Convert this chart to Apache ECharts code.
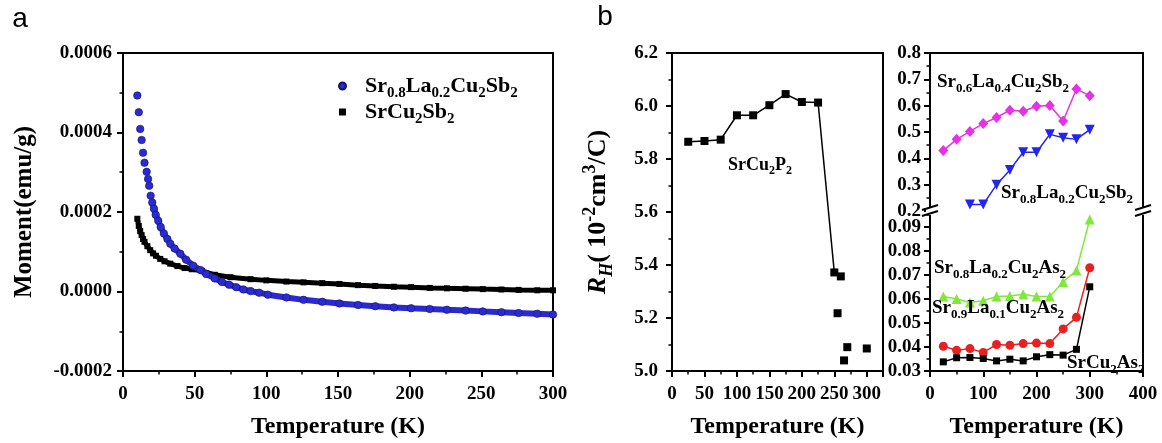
<!DOCTYPE html>
<html>
<head>
<meta charset="utf-8">
<script src="https://cdn.jsdelivr.net/npm/echarts@6/dist/echarts.min.js"></script>
<style>
  html, body { margin: 0; padding: 0; background: #fff; }
  #chart { width: 1162px; height: 443px; }
</style>
</head>
<body>
<div id="chart"></div>
<script>
// ---- panel a: moment vs temperature ----
const tempBlueA = [10, 11, 12, 13, 14, 15, 16.5, 17.5, 18.3, 19.3, 20.4, 21.6, 22.8, 24.6, 26.3, 28.5, 31, 33, 36, 40, 44, 49, 54, 58, 64, 69, 74, 79, 84, 89, 95, 101, 114, 126, 139, 151, 164, 176, 189, 201, 214, 226, 239, 251, 264, 276, 289, 300];
const momBlueA = [0.000493, 0.000451, 0.000409, 0.000381, 0.000349, 0.000324, 0.000301, 0.000283, 0.000266, 0.000241, 0.000224, 0.000208, 0.000193, 0.000178, 0.000162, 0.000146, 0.000132, 0.000120, 0.000108, 0.000095, 0.000080, 0.000065, 0.000054, 0.000044, 0.000033, 0.000024, 0.000017, 0.000011, 0.000005, 0.000001, -0.000003, -0.000008, -0.000015, -0.000021, -0.000026, -0.000030, -0.000034, -0.000037, -0.000040, -0.000042, -0.000044, -0.000046, -0.000048, -0.000050, -0.000052, -0.000054, -0.000056, -0.000058];
const tempBlackA = [10, 11, 12, 13, 14, 15, 17, 19, 21, 23, 26, 29, 33, 38, 43, 48, 55, 64, 75, 89, 100, 114, 126, 139, 151, 164, 176, 189, 201, 214, 226, 239, 251, 264, 276, 289, 300];
const momBlackA = [0.000183, 0.000165, 0.000152, 0.000142, 0.000132, 0.000125, 0.000114, 0.000104, 0.000096, 0.000090, 0.000082, 0.000076, 0.000070, 0.000064, 0.000059, 0.000056, 0.000052, 0.000042, 0.000036, 0.000031, 0.000028, 0.000025, 0.000023, 0.000021, 0.000019, 0.000016, 0.000014, 0.000012, 0.000011, 0.000009, 0.000008, 0.000007, 0.000006, 0.000005, 0.000004, 0.000003, 0.000003];

// ---- panel b left: SrCu2P2 ----
const tempP = [25, 50, 75, 100, 125, 150, 175, 200, 225, 250, 260];
const rhP = [5.865, 5.868, 5.873, 5.965, 5.965, 6.003, 6.045, 6.015, 6.013, 5.372, 5.357];
const tempPLoose = [255, 265, 270, 300];
const rhPLoose = [5.218, 5.040, 5.090, 5.085];

// ---- panel b right ----
const tempR = [25, 50, 75, 100, 125, 150, 175, 200, 225, 250, 275, 300];
const rhSr06Sb = [0.430, 0.472, 0.502, 0.532, 0.555, 0.583, 0.579, 0.598, 0.601, 0.542, 0.663, 0.638];
const tempSr08Sb = [75, 100, 125, 150, 175, 200, 225, 250, 275, 300];
const rhSr08Sb = [0.225, 0.225, 0.300, 0.356, 0.423, 0.423, 0.491, 0.478, 0.472, 0.509];
const rhSr08As = [0.0610, 0.0599, 0.0585, 0.0592, 0.0610, 0.0612, 0.0619, 0.0610, 0.0610, 0.0670, 0.0718, 0.0930];
const rhSr09As = [0.0403, 0.0386, 0.0393, 0.0377, 0.0410, 0.0407, 0.0414, 0.0416, 0.0414, 0.0475, 0.0523, 0.0729];
const rhSrAs = [0.0338, 0.0355, 0.0356, 0.0352, 0.0342, 0.0349, 0.0342, 0.0359, 0.0368, 0.0366, 0.0390, 0.0650];

const SERIF = '"Liberation Serif", "Times New Roman", serif';
const zip = (xs, ys) => xs.map((x, i) => [x, ys[i]]);

// formula like Sr_0.8La_0.2 -> rich text with subscripts
const chem = (s) => s.replace(/([A-Za-z]+)|_([0-9.]+)/g, (m, a, b) => (a ? '{n|' + a + '}' : '{s|' + b + '}'));

const richFor = (F) => {
  const fs = Math.round(F * 0.66);
  return {
    n: { fontFamily: SERIF, fontWeight: 'bold', fontSize: F, lineHeight: Math.round(F * 1.35), verticalAlign: 'middle', color: '#000' },
    s: { fontFamily: SERIF, fontWeight: 'bold', fontSize: fs, lineHeight: fs, verticalAlign: 'bottom', color: '#000' },
    sp: { width: 14 },
  };
};

const LABEL = { color: '#000', fontFamily: SERIF, fontWeight: 'bold', fontSize: 19 };
const TITLE = { color: '#000', fontFamily: SERIF, fontWeight: 'bold', fontSize: 24 };
const LINE = { color: '#000', width: 2 };

const valAxis = (o) => ({
  type: 'value',
  axisLine: { show: true, onZero: false, lineStyle: LINE },
  axisTick: { show: true, length: 6, lineStyle: LINE },
  minorTick: { show: true, splitNumber: 2, length: 3.5, lineStyle: { color: '#000', width: 1.5 } },
  splitLine: { show: false },
  minorSplitLine: { show: false },
  ...o,
});

const frameAxis = (o) => ({
  type: 'value',
  axisLine: { show: true, onZero: false, lineStyle: LINE },
  axisTick: { show: false },
  minorTick: { show: false },
  axisLabel: { show: false },
  splitLine: { show: false },
  ...o,
});

const breakMark = (x, y) => [
  { type: 'rect', z: 100, shape: { x: x - 4, y: y - 3, width: 8, height: 7 }, style: { fill: '#fff' } },
  { type: 'line', z: 101, shape: { x1: x - 8, y1: y - 1, x2: x + 8, y2: y - 6 }, style: { stroke: '#000', lineWidth: 2 } },
  { type: 'line', z: 101, shape: { x1: x - 8, y1: y + 5, x2: x + 8, y2: y }, style: { stroke: '#000', lineWidth: 2 } },
];

const label = (text, x, y, F, align) => ({
  type: 'text', z: 50, x, y,
  style: { text: chem(text), rich: richFor(F), align: align || 'left', verticalAlign: 'middle' },
});

const chart = echarts.init(document.getElementById('chart'));

const option = {
  animation: false,
  backgroundColor: '#fff',
  grid: [
    { left: 123, top: 53, width: 430, height: 318, show: true, borderColor: '#000', borderWidth: 2, outerBoundsMode: 'none' },
    { left: 672, top: 53, width: 211, height: 318, show: true, borderColor: '#000', borderWidth: 2, outerBoundsMode: 'none' },
    { left: 930, top: 53, width: 213, height: 158, outerBoundsMode: 'none' },
    { left: 930, top: 211, width: 213, height: 160, outerBoundsMode: 'none' },
  ],
  legend: {
    data: [
      { name: 'Sr_0.8La_0.2Cu_2Sb_2', icon: 'circle' },
      { name: 'SrCu_2Sb_2', icon: 'rect' },
    ],
    orient: 'vertical',
    left: 333,
    top: 70,
    itemWidth: 7,
    itemHeight: 7,
    itemGap: 0,
    selectedMode: false,
    formatter: (name) => '{sp| }' + chem(name),
    textStyle: { rich: richFor(22) },
  },
  xAxis: [
    valAxis({
      gridIndex: 0, min: 0, max: 300, interval: 50,
      axisLabel: { ...LABEL, margin: 14 },
      name: 'Temperature (K)', nameLocation: 'middle', nameGap: 44, nameTextStyle: TITLE,
    }),
    valAxis({
      gridIndex: 1, min: 0, max: 325, interval: 50,
      axisLabel: { ...LABEL, margin: 14, showMaxLabel: false },
      name: 'Temperature (K)', nameLocation: 'middle', nameGap: 44, nameTextStyle: TITLE,
    }),
    frameAxis({ gridIndex: 2, position: 'top', min: 0, max: 400 }),
    valAxis({
      gridIndex: 3, min: 0, max: 400, interval: 100,
      axisLabel: { ...LABEL, margin: 14 },
      name: 'Temperature (K)', nameLocation: 'middle', nameGap: 44, nameTextStyle: TITLE,
    }),
  ],
  yAxis: [
    valAxis({
      gridIndex: 0, min: -0.0002, max: 0.0006, interval: 0.0002,
      axisLabel: { ...LABEL, margin: 11, formatter: (v) => v.toFixed(4) },
      name: 'Moment(emu/g)', nameLocation: 'middle', nameRotate: 90, nameGap: 86,
      nameTextStyle: { ...TITLE, fontSize: 25 },
    }),
    valAxis({
      gridIndex: 1, min: 5.0, max: 6.2, interval: 0.2,
      axisLabel: { ...LABEL, margin: 14, formatter: (v) => v.toFixed(1) },
      name: '{ri|R}{rs|H}{n|( 10}{p|-2}{n|cm}{p|3}{n|/C)}',
      nameLocation: 'middle', nameRotate: 90, nameGap: 56,
      nameTextStyle: {
        rich: {
          n: { fontFamily: SERIF, fontWeight: 'bold', fontSize: 26, lineHeight: 35, verticalAlign: 'middle', color: '#000' },
          ri: { fontFamily: SERIF, fontWeight: 'bold', fontStyle: 'italic', fontSize: 26, lineHeight: 35, verticalAlign: 'middle', color: '#000' },
          rs: { fontFamily: SERIF, fontWeight: 'bold', fontStyle: 'italic', fontSize: 18, lineHeight: 18, verticalAlign: 'bottom', color: '#000' },
          p: { fontFamily: SERIF, fontWeight: 'bold', fontSize: 18, lineHeight: 18, verticalAlign: 'top', color: '#000' },
        },
      },
    }),
    valAxis({
      gridIndex: 2, min: 0.2, max: 0.8, interval: 0.1,
      axisLabel: { ...LABEL, margin: 9, formatter: (v) => v.toFixed(1) },
    }),
    frameAxis({ gridIndex: 2, position: 'right', min: 0.2, max: 0.8 }),
    valAxis({
      gridIndex: 3, min: 0.03, max: 0.0965, interval: 0.01,
      axisLabel: { ...LABEL, margin: 9, showMaxLabel: false, formatter: (v) => v.toFixed(2) },
    }),
    frameAxis({ gridIndex: 3, position: 'right', min: 0.03, max: 0.0965 }),
  ],
  series: [
    // panel a
    {
      name: 'SrCu_2Sb_2', type: 'line', xAxisIndex: 0, yAxisIndex: 0,
      data: zip(tempBlackA, momBlackA),
      symbol: 'rect', symbolSize: 6, showSymbol: true,
      lineStyle: { color: '#000', width: 5 }, itemStyle: { color: '#000' }, z: 2,
    },
    {
      name: 'blue-band', type: 'line', xAxisIndex: 0, yAxisIndex: 0,
      data: zip(tempBlueA, momBlueA).filter((p) => p[0] >= 20),
      symbol: 'none', lineStyle: { color: '#2a2ad0', width: 6 }, z: 3,
    },
    {
      name: 'Sr_0.8La_0.2Cu_2Sb_2', type: 'scatter', xAxisIndex: 0, yAxisIndex: 0,
      data: zip(tempBlueA, momBlueA),
      symbol: 'circle', symbolSize: 7.5,
      itemStyle: { color: '#2a2ad6', borderColor: '#15155a', borderWidth: 0.6, opacity: 1 }, z: 4,
    },
    // panel b left
    {
      name: 'SrCu2P2', type: 'line', xAxisIndex: 1, yAxisIndex: 1,
      data: zip(tempP, rhP), symbol: 'rect', symbolSize: 8,
      lineStyle: { color: '#000', width: 1.5 }, itemStyle: { color: '#000' },
    },
    {
      name: 'SrCu2P2-loose', type: 'scatter', xAxisIndex: 1, yAxisIndex: 1,
      data: zip(tempPLoose, rhPLoose), symbol: 'rect', symbolSize: 8,
      itemStyle: { color: '#000', opacity: 1 },
    },
    // panel b right, upper
    {
      name: 'Sr0.6La0.4Cu2Sb2', type: 'line', xAxisIndex: 2, yAxisIndex: 2,
      data: zip(tempR, rhSr06Sb), symbol: 'diamond', symbolSize: [10, 11],
      lineStyle: { color: '#e631e6', width: 1.5 }, itemStyle: { color: '#e631e6' },
    },
    {
      name: 'Sr0.8La0.2Cu2Sb2', type: 'line', xAxisIndex: 2, yAxisIndex: 2,
      data: zip(tempSr08Sb, rhSr08Sb), symbol: 'triangle', symbolRotate: 180, symbolSize: 10,
      lineStyle: { color: '#2424f0', width: 1.5 }, itemStyle: { color: '#2424f0' },
    },
    // panel b right, lower
    {
      name: 'Sr0.8La0.2Cu2As2', type: 'line', xAxisIndex: 3, yAxisIndex: 4,
      data: zip(tempR, rhSr08As), symbol: 'triangle', symbolSize: 10,
      lineStyle: { color: '#7fe83a', width: 1.5 }, itemStyle: { color: '#7fe83a' },
    },
    {
      name: 'Sr0.9La0.1Cu2As2', type: 'line', xAxisIndex: 3, yAxisIndex: 4,
      data: zip(tempR, rhSr09As), symbol: 'circle', symbolSize: 9,
      lineStyle: { color: '#e82020', width: 1.5 }, itemStyle: { color: '#e82020' },
    },
    {
      name: 'SrCu2As2', type: 'line', xAxisIndex: 3, yAxisIndex: 4,
      data: zip(tempR, rhSrAs), symbol: 'rect', symbolSize: 7,
      lineStyle: { color: '#000', width: 1.5 }, itemStyle: { color: '#000' },
    },
  ],
  graphic: [
    { type: 'text', z: 50, x: 20, y: 19, style: { text: 'a', fontFamily: '"Liberation Sans", Arial, sans-serif', fontSize: 28, fill: '#000', align: 'center', verticalAlign: 'middle' } },
    { type: 'text', z: 50, x: 605, y: 17, style: { text: 'b', fontFamily: '"Liberation Sans", Arial, sans-serif', fontSize: 28, fill: '#000', align: 'center', verticalAlign: 'middle' } },
    label('SrCu_2P_2', 760, 165, 18, 'center'),
    label('Sr_0.6La_0.4Cu_2Sb_2', 937, 82, 19),
    label('Sr_0.8La_0.2Cu_2Sb_2', 1001, 193, 19),
    label('Sr_0.8La_0.2Cu_2As_2', 934, 268, 19),
    label('Sr_0.9La_0.1Cu_2As_2', 932, 308, 19),
    label('SrCu_2As_2', 1067, 363, 19),
    ...breakMark(930, 211),
    ...breakMark(1143, 211),
  ],
};

chart.setOption(option);
</script>
</body>
</html>
